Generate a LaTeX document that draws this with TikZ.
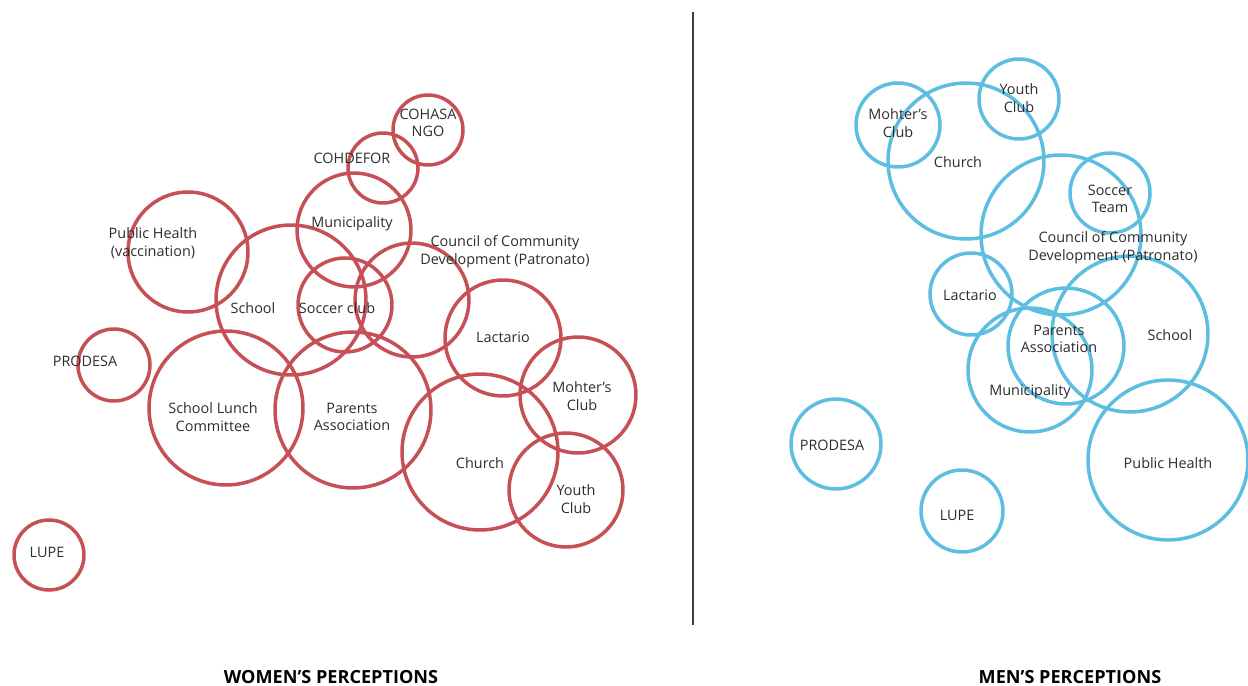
\documentclass[tikz,border=0pt]{standalone}
\usepackage{fontspec}
\setmainfont{Open Sans}
\usetikzlibrary{positioning}
\definecolor{womenred}{RGB}{198,80,86}
\definecolor{menblue}{RGB}{94,190,226}
\definecolor{labelgray}{RGB}{45,45,45}
\tikzset{
    wcirc/.style = {circle, line width=2pt, draw=womenred, minimum size=#1*0.04cm, inner sep=0pt},
    mcirc/.style = {circle, line width=2pt, draw=menblue, minimum size=#1*0.04cm, inner sep=0pt},
    lbl/.style = {align=center, inner sep=0pt, text=labelgray, font=\fontsize{8.2}{10}\selectfont},
    ttl/.style = {inner sep=0pt, text=black, font=\bfseries\fontsize{10.3}{12}\selectfont},
    divider/.style = {line width=0.9pt, black!75},
}

\begin{document}
\begin{tikzpicture}[x=0.02cm, y=-0.02cm]
\useasboundingbox (0,0) rectangle (1248,686);
% women
\node[wcirc=35] (w-cohasa) at (428,130) {};
\node[wcirc=35] (w-cohdefor) at (383,168) {};
\node[wcirc=57] (w-muni) at (354,230) {};
\node[wcirc=60] (w-health) at (188,252) {};
\node[wcirc=75] (w-school) at (291,300) {};
\node[wcirc=47] (w-soccer) at (345,305) {};
\node[wcirc=57] (w-council) at (412,300) {};
\node[wcirc=58] (w-lactario) at (503,338) {};
\node[wcirc=36] (w-prodesa) at (114,365) {};
\node[wcirc=77] (w-lunch) at (226,408) {};
\node[wcirc=78] (w-parents) at (353,410) {};
\node[wcirc=58] (w-mothers) at (578,395) {};
\node[wcirc=78] (w-church) at (480,452) {};
\node[wcirc=57] (w-youth) at (566,490) {};
\node[wcirc=35] (w-lupe) at (49,555) {};
%
\node[lbl] (w-cohasa-t) at (428,123) {COHASA\\NGO};
\node[lbl] (w-cohdefor-t) at (352,158) {COHDEFOR};
\node[lbl] (w-muni-t) at (352,224) {Municipality};
\node[lbl] (w-health-t) at (153,243) {Public Health\\(vaccination)};
\node[lbl] (w-school-t) at (253,308) {School};
\node[lbl] (w-soccer-t) at (337,308) {Soccer club};
\node[lbl] (w-council-t) at (505,252) {Council of Community\\Development (Patronato)};
\node[lbl] (w-lactario-t) at (503,337) {Lactario};
\node[lbl] (w-prodesa-t) at (85,361) {PRODESA};
\node[lbl] (w-lunch-t) at (213,417) {School Lunch\\Committee};
\node[lbl] (w-parents-t) at (352,417) {Parents\\Association};
\node[lbl] (w-mothers-t) at (582,396) {Mohter’s\\Club};
\node[lbl] (w-church-t) at (480,463) {Church};
\node[lbl] (w-youth-t) at (576,499) {Youth\\Club};
\node[lbl] (w-lupe-t) at (47,552) {LUPE};
% men
\node[mcirc=42] (m-mothers) at (898,125) {};
\node[mcirc=78] (m-church) at (966,161) {};
\node[mcirc=40] (m-youth) at (1019,99) {};
\node[mcirc=40] (m-soccer) at (1110,193) {};
\node[mcirc=80] (m-council) at (1061,235) {};
\node[mcirc=41] (m-lactario) at (971,294) {};
\node[mcirc=78] (m-school) at (1130,334) {};
\node[mcirc=58] (m-parents) at (1066,346) {};
\node[mcirc=62] (m-muni) at (1030,370) {};
\node[mcirc=45] (m-prodesa) at (836,444) {};
\node[mcirc=41] (m-lupe) at (962,511) {};
\node[mcirc=80] (m-health) at (1168,460) {};
%
\node[lbl] (m-mothers-t) at (898,123) {Mohter’s\\Club};
\node[lbl] (m-church-t) at (958,162) {Church};
\node[lbl] (m-youth-t) at (1019,98) {Youth\\Club};
\node[lbl] (m-soccer-t) at (1110,199) {Soccer\\Team};
\node[lbl] (m-council-t) at (1113,248) {Council of Community\\Development (Patronato)};
\node[lbl] (m-lactario-t) at (970,295) {Lactario};
\node[lbl] (m-school-t) at (1170,335) {School};
\node[lbl] (m-parents-t) at (1059,339) {Parents\\Association};
\node[lbl] (m-muni-t) at (1030,392) {Municipality};
\node[lbl] (m-prodesa-t) at (832,445) {PRODESA};
\node[lbl] (m-lupe-t) at (957,515) {LUPE};
\node[lbl] (m-health-t) at (1168,463) {Public Health};
% divider and titles
\coordinate (div-top) at (693,12);
\coordinate (div-bot) at (693,625);
\draw[divider] (div-top) -- (div-bot);
\node[ttl] (women-title) at (331,677) {WOMEN’S PERCEPTIONS};
\node[ttl] (men-title) at (1070,677) {MEN’S PERCEPTIONS};
\end{tikzpicture}
\end{document}
